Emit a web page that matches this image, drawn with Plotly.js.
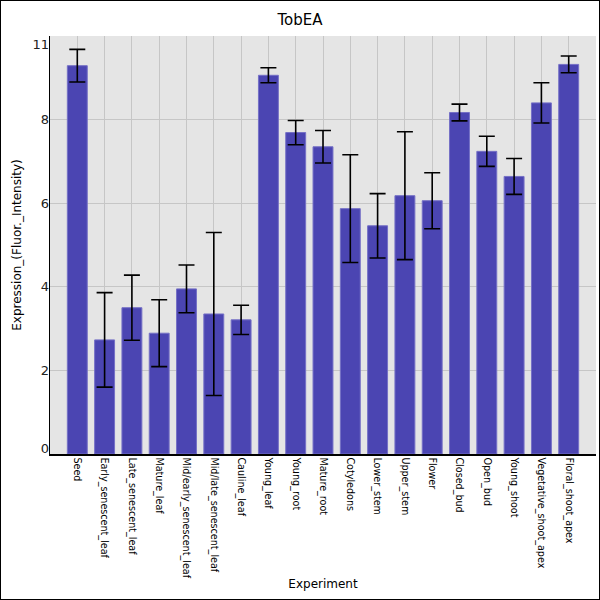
<!DOCTYPE html>
<html>
<head>
<meta charset="utf-8">
<script src="https://cdn.plot.ly/plotly-3.0.1.min.js"></script>
<style>
  body { margin: 0; background: #fff; }
  #chart { width: 598px; height: 598px; border: 1px solid #000; }
</style>
</head>
<body>
<div id="chart"></div>
<script>
// TobEA expression per tissue, mean +/- error
const experiments = [
  "Seed", "Early_senescent_leaf", "Late_senescent_leaf", "Mature_leaf",
  "Mid/early_senescent_leaf", "Mid/late_senescent_leaf", "Cauline_leaf",
  "Young_leaf", "Young_root", "Mature_root", "Cotyledons", "Lower_stem",
  "Upper_stem", "Flower", "Closed_bud", "Open_bud", "Young_shoot",
  "Vegetative_shoot_apex", "Floral_shoot_apex"
];
const expression = [
  9.29, 2.73, 3.50, 2.89, 3.95, 3.35, 3.21,
  9.06, 7.69, 7.35, 5.87, 5.46,
  6.18, 6.06, 8.17, 7.24, 6.64,
  8.40, 9.32
];
const errors = [
  0.39, 1.13, 0.78, 0.80, 0.57, 1.95, 0.35,
  0.18, 0.29, 0.39, 1.29, 0.77,
  1.53, 0.67, 0.20, 0.36, 0.43,
  0.48, 0.20
];
const yTickVals = [0.14, 2, 4, 6, 8, 9.8];
const yTickText = ["0", "2", "4", "6", "8", "11"];

const font = "DejaVu Sans, sans-serif";

Plotly.newPlot("chart", [{
  type: "bar",
  x: experiments,
  y: expression,
  marker: { color: "#4b45b2", line: { color: "#7570c6", width: 1 } },
  error_y: { type: "data", array: errors, visible: true, color: "#000", thickness: 1.6, width: 8 },
  hoverinfo: "none",
}, {
  // invisible trace carrying the label axis
  type: "scatter", mode: "none", x: [experiments[0]], y: [0], yaxis: "y2",
  hoverinfo: "none", showlegend: false,
}], {
  width: 598,
  height: 598,
  title: { text: "TobEA", font: { family: font, size: 15, color: "#000" }, x: 0.5, xref: "container", y: 0.968, yanchor: "middle" },
  paper_bgcolor: "#fff",
  plot_bgcolor: "#e5e5e5",
  showlegend: false,
  bargap: 0.27,
  margin: { t: 35, b: 145, l: 49, r: 3 },
  xaxis: {
    type: "category",
    range: [-1, experiments.length],
    tickangle: 90,
    tickfont: { family: font, size: 9.6, color: "#000" },
    showgrid: true, gridcolor: "#c6c6c6", gridwidth: 1,
    showline: true, linecolor: "#000", linewidth: 1.5,
    ticks: "", automargin: false,
    title: { text: "Experiment", font: { family: font, size: 12, color: "#000" }, standoff: 2 },
  },
  yaxis: {
    range: [0, 10],
    tickvals: [0, 2, 4, 6, 8, 10],
    showticklabels: false,
    showgrid: true, gridcolor: "#c6c6c6", gridwidth: 1,
    showline: true, linecolor: "#000", linewidth: 1.5,
    zeroline: false, ticks: "", automargin: false,
    title: { text: "Expression_(Fluor._Intensity)", font: { family: font, size: 12, color: "#000" }, standoff: 24 },
  },
  yaxis2: {
    overlaying: "y", side: "left", range: [0, 10],
    tickvals: yTickVals, ticktext: yTickText,
    tickfont: { family: font, size: 13, color: "#222" },
    showgrid: false, zeroline: false, showline: false, ticks: "", automargin: false,
  },
}, { staticPlot: true });
</script>
</body>
</html>
